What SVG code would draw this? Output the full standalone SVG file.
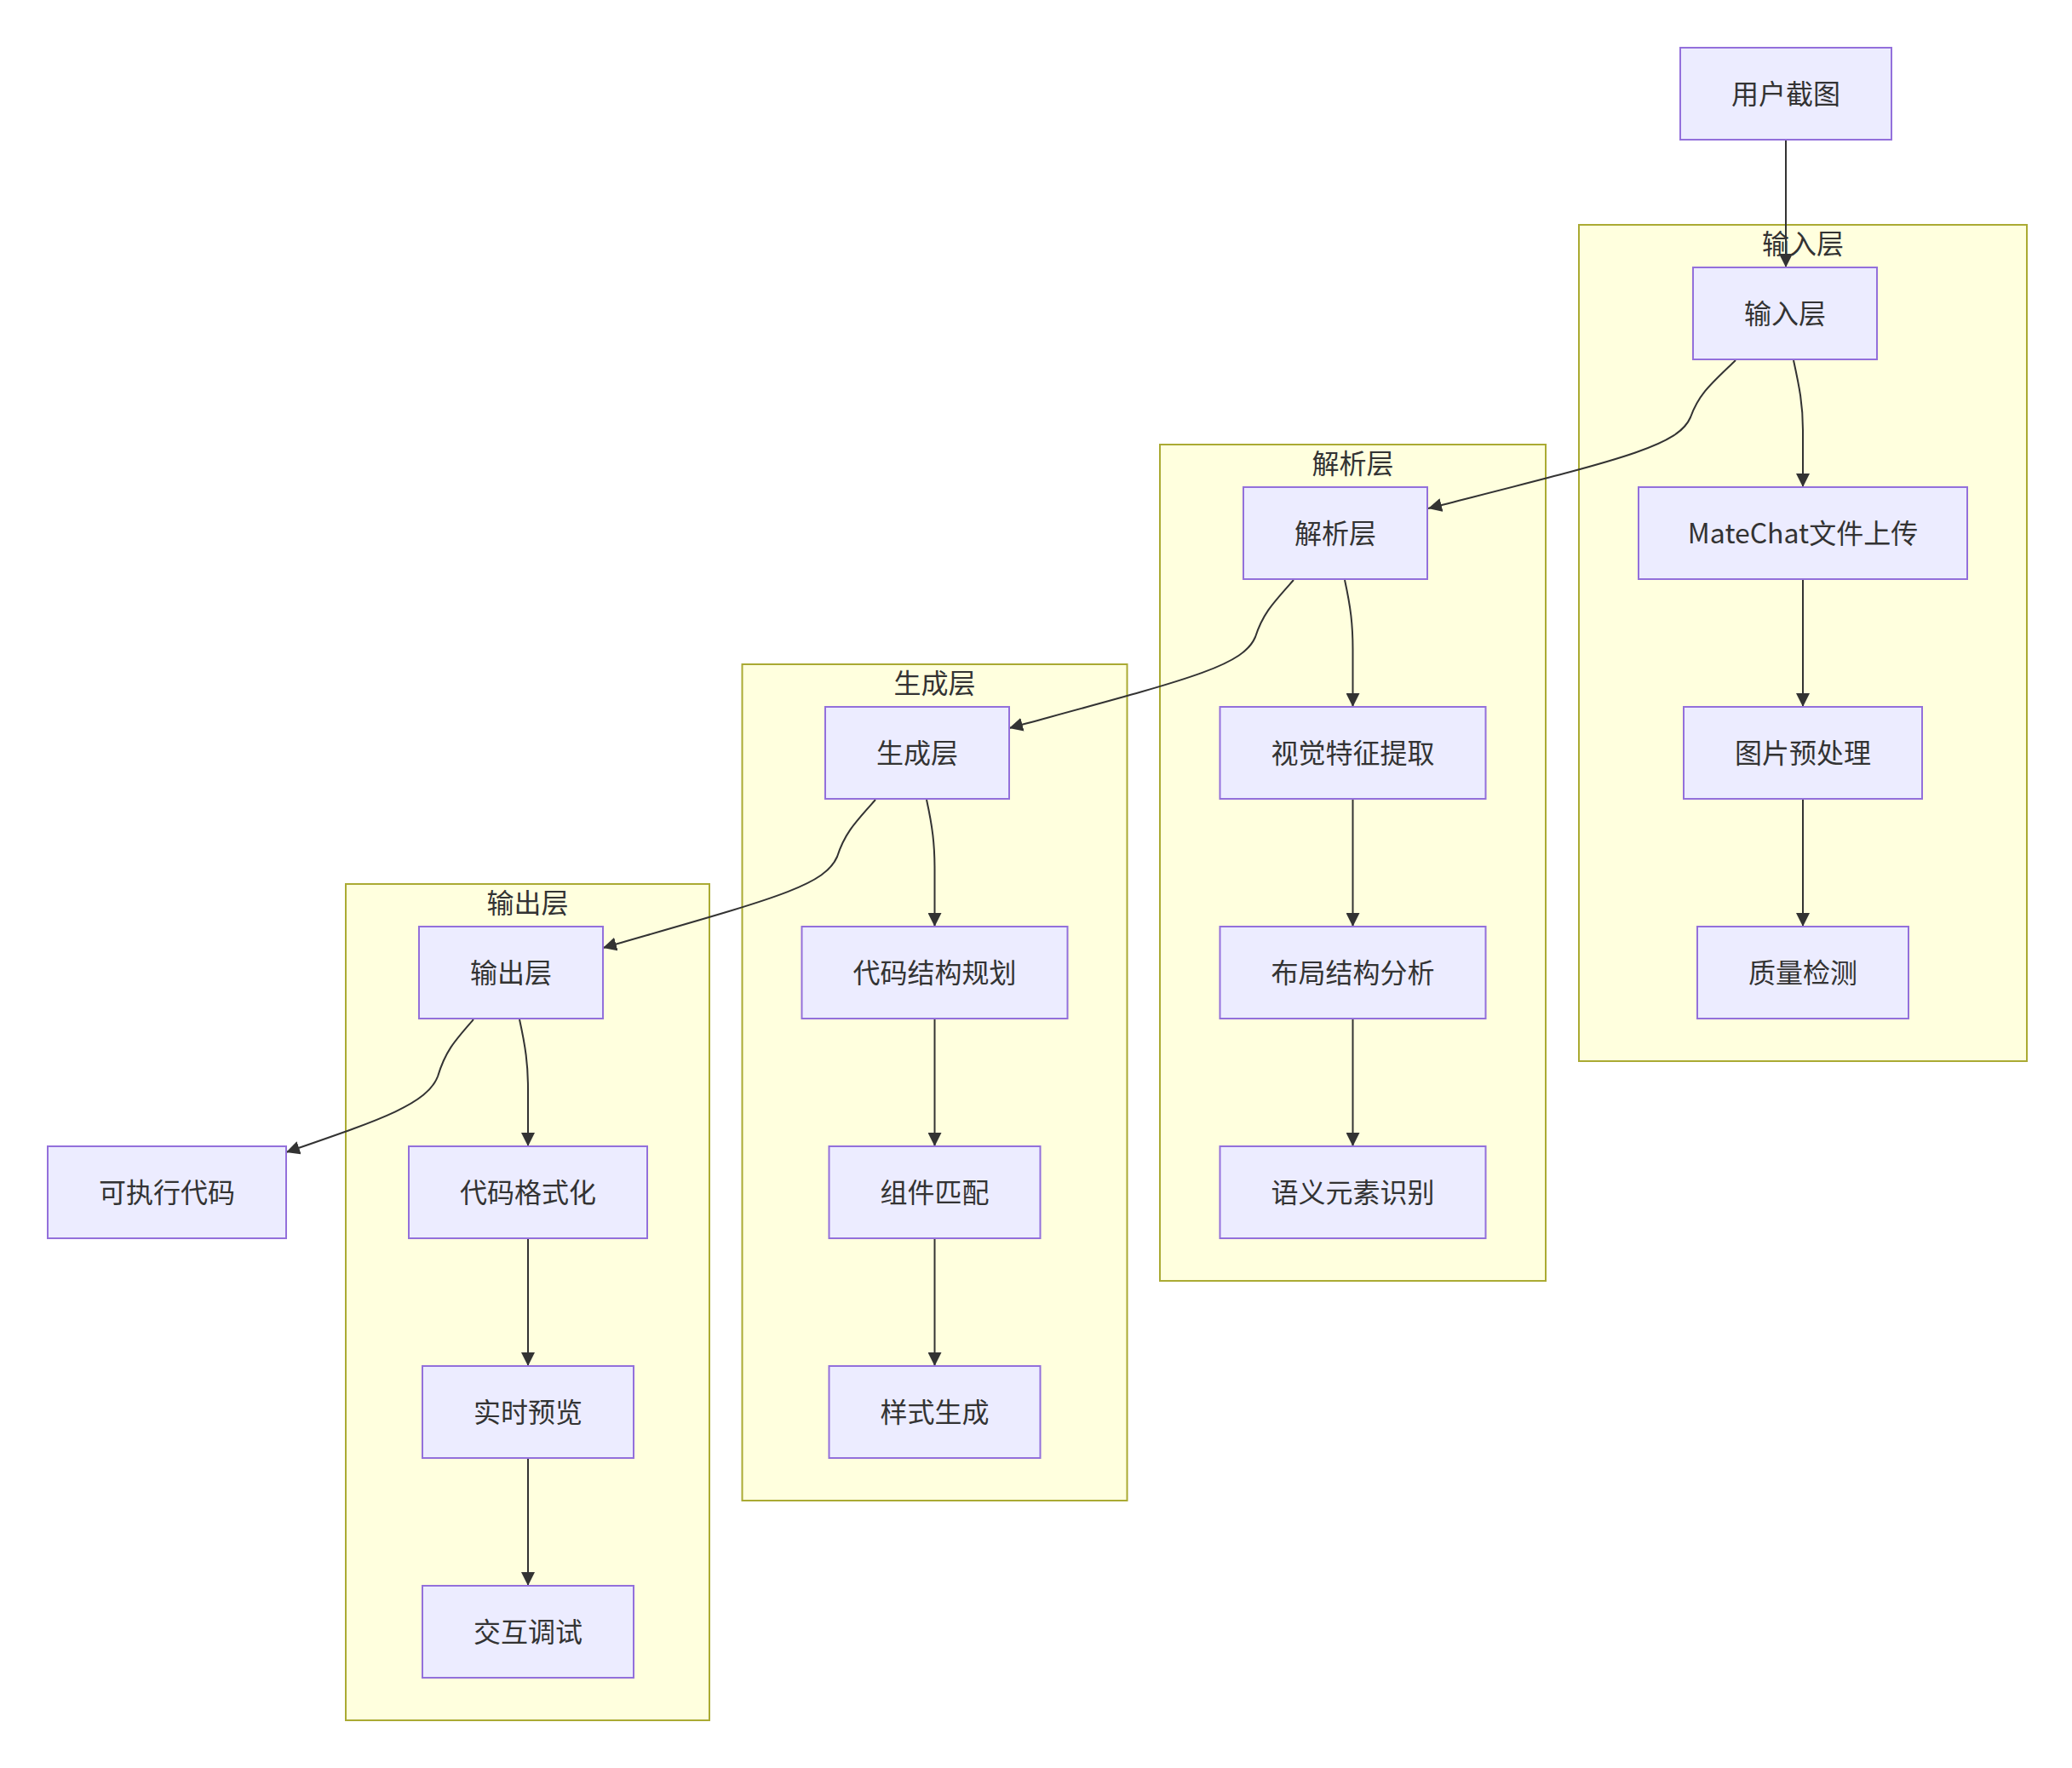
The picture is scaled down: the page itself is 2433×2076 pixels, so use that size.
<svg xmlns="http://www.w3.org/2000/svg" width="2433" height="2076" viewBox="0 0 2433 2076">
<style>
.cluster rect{fill:#ffffde;stroke:#aaaa33;stroke-width:2}
.node rect{fill:#ECECFF;stroke:#9370DB;stroke-width:2}
text{font-family:"Noto Sans CJK SC","Noto Sans",sans-serif;font-size:32px;fill:#333333;text-anchor:middle;dominant-baseline:central}
.edges path{fill:none;stroke:#333333;stroke-width:2;marker-end:url(#arrow)}
</style>
<defs>
<marker id="arrow" viewBox="0 0 10 10" refX="10" refY="5" markerUnits="userSpaceOnUse" markerWidth="16" markerHeight="16" orient="auto">
<path d="M0,0 L10,5 L0,10 z" fill="#333333"/>
</marker>
</defs>
<rect width="2433" height="2076" fill="#ffffff"/>
<g id="clusters">
<g id="cluster-input" class="cluster"><rect x="1854" y="264" width="526" height="982"/><text x="2117" y="284">输入层</text></g>
<g id="cluster-parse" class="cluster"><rect x="1362" y="522" width="453" height="982"/><text x="1588.5" y="542">解析层</text></g>
<g id="cluster-gen" class="cluster"><rect x="871.5" y="780" width="452" height="982"/><text x="1097.5" y="800">生成层</text></g>
<g id="cluster-out" class="cluster"><rect x="406" y="1038" width="427" height="982"/><text x="619.5" y="1058">输出层</text></g>
</g>
<g id="connectors" class="edges">
<path d="M2097,164 L2097,314"/>
<path d="M2038,423 C2010,450 1995,462 1985,490 C1970,525 1900,540 1677,597"/>
<path d="M2106,423 C2113,455 2117,475 2117,505 L2117,572"/>
<path d="M2117,680 L2117,830"/>
<path d="M2117,938 L2117,1088"/>
<path d="M1519,681 C1495,708 1483,720 1474,748 C1459,783 1394,798 1185,855"/>
<path d="M1579,681 C1586,713 1588.5,733 1588.5,763 L1588.5,830"/>
<path d="M1588.5,938 L1588.5,1088"/>
<path d="M1588.5,1196 L1588.5,1346"/>
<path d="M1028,939 C1004,966 992,978 983,1006 C968,1041 905,1056 708,1113"/>
<path d="M1088,939 C1095,971 1097.5,991 1097.5,1021 L1097.5,1088"/>
<path d="M1097.5,1196 L1097.5,1346"/>
<path d="M1097.5,1454 L1097.5,1604"/>
<path d="M556,1197 C534,1222 523,1234 514,1264 C501,1297 446,1315 336,1353"/>
<path d="M610,1197 C617,1229 620,1249 620,1279 L620,1346"/>
<path d="M620,1454 L620,1604"/>
<path d="M620,1712 L620,1862"/>
</g>
<g id="node-screenshot" class="node"><rect x="1973" y="56" width="248" height="108"/><text x="2097" y="108">用户截图</text></g>
<g id="node-input" class="node"><rect x="1988" y="314" width="216" height="108"/><text x="2096" y="366">输入层</text></g>
<g id="node-upload" class="node"><rect x="1924" y="572" width="386" height="108"/><text x="2117" y="624">MateChat文件上传</text></g>
<g id="node-preprocess" class="node"><rect x="1977" y="830" width="280" height="108"/><text x="2117" y="882">图片预处理</text></g>
<g id="node-quality" class="node"><rect x="1993" y="1088" width="248" height="108"/><text x="2117" y="1140">质量检测</text></g>
<g id="node-parse" class="node"><rect x="1460" y="572" width="216" height="108"/><text x="1568" y="624">解析层</text></g>
<g id="node-visual" class="node"><rect x="1432.5" y="830" width="312" height="108"/><text x="1588.5" y="882">视觉特征提取</text></g>
<g id="node-layout" class="node"><rect x="1432.5" y="1088" width="312" height="108"/><text x="1588.5" y="1140">布局结构分析</text></g>
<g id="node-semantic" class="node"><rect x="1432.5" y="1346" width="312" height="108"/><text x="1588.5" y="1398">语义元素识别</text></g>
<g id="node-gen" class="node"><rect x="969" y="830" width="216" height="108"/><text x="1077" y="882">生成层</text></g>
<g id="node-plan" class="node"><rect x="941.5" y="1088" width="312" height="108"/><text x="1097.5" y="1140">代码结构规划</text></g>
<g id="node-match" class="node"><rect x="973.5" y="1346" width="248" height="108"/><text x="1097.5" y="1398">组件匹配</text></g>
<g id="node-style" class="node"><rect x="973.5" y="1604" width="248" height="108"/><text x="1097.5" y="1656">样式生成</text></g>
<g id="node-out" class="node"><rect x="492" y="1088" width="216" height="108"/><text x="600" y="1140">输出层</text></g>
<g id="node-exec" class="node"><rect x="56" y="1346" width="280" height="108"/><text x="196" y="1398">可执行代码</text></g>
<g id="node-format" class="node"><rect x="480" y="1346" width="280" height="108"/><text x="620" y="1398">代码格式化</text></g>
<g id="node-preview" class="node"><rect x="496" y="1604" width="248" height="108"/><text x="620" y="1656">实时预览</text></g>
<g id="node-debug" class="node"><rect x="496" y="1862" width="248" height="108"/><text x="620" y="1914">交互调试</text></g>
</svg>
